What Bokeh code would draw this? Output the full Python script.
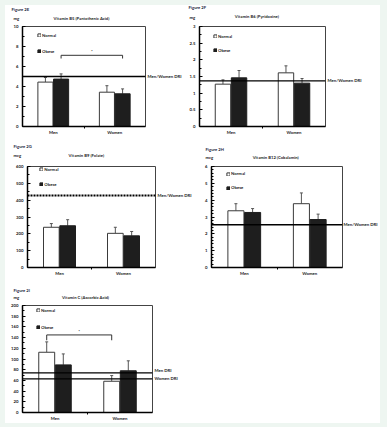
import re
from bokeh.plotting import figure
from bokeh.layouts import row, column
from bokeh.models import (Range1d, Span, Label, Whisker, TeeHead, ColumnDataSource,
                          Legend, LegendItem, FixedTicker, SingleIntervalTicker,
                          NumeralTickFormatter)
from bokeh.embed import file_html
from bokeh.resources import INLINE

# ---------------- data ----------------
groups = ["Men", "Women"]
series = ["Normal", "Obese"]

b5_normal = [4.44, 3.43]
b5_normal_sd = [0.46, 0.65]
b5_obese = [4.74, 3.27]
b5_obese_sd = [0.52, 0.49]
b5_dri = [5.0]
b5_dri_labels = ["Men/Women DRI"]
b5_sig_level = 7.12

b6_normal = [1.27, 1.61]
b6_normal_sd = [0.13, 0.21]
b6_obese = [1.46, 1.30]
b6_obese_sd = [0.22, 0.14]
b6_dri = [1.37]
b6_dri_labels = ["Men/Women DRI"]

b9_normal = [239, 203]
b9_normal_sd = [22, 36]
b9_obese = [248, 188]
b9_obese_sd = [36, 26]
b9_dri = [427]
b9_dri_labels = ["Men/Women DRI"]

b12_normal = [3.37, 3.79]
b12_normal_sd = [0.42, 0.64]
b12_obese = [3.27, 2.85]
b12_obese_sd = [0.23, 0.32]
b12_dri = [2.54]
b12_dri_labels = ["Men/Women DRI"]

c_normal = [112.6, 58.4]
c_normal_sd = [19.4, 10.6]
c_obese = [89, 78]
c_obese_sd = [20.5, 18.6]
c_dri = [74, 63]
c_dri_labels = ["Men DRI", "Women DRI"]
c_sig_level = 145

# ---------------- style ----------------
FONT = "Lato"
TXT = "#222222"
FS = "4.3px"
BW = 0.255


def lab(p, x, y, text, dx=0, dy=0, align="left", size=FS, color=TXT, side="center"):
    p.add_layout(Label(x=x, y=y, x_offset=dx, y_offset=dy, text=text,
                       text_align=align, text_baseline="middle",
                       text_font=FONT, text_font_size=size, text_color=color,
                       text_font_style="bold"), side)


def panel(cfg):
    left, right, top, bottom = cfg["borders"]
    n = len(groups)
    ymax = cfg["ymax"]
    p = figure(width=cfg["w"], height=cfg["h"], x_range=Range1d(0, n),
               y_range=Range1d(0, ymax), output_backend="svg",
               toolbar_location=None, min_border_left=left,
               min_border_right=right, min_border_top=top,
               min_border_bottom=bottom)
    p.xgrid.visible = False
    p.ygrid.visible = False
    p.background_fill_color = "white"
    p.border_fill_color = "white"
    p.outline_line_color = "#444444"
    p.outline_line_width = 1

    # x axis
    xa = p.xaxis[0]
    xa.ticker = FixedTicker(ticks=[i + 0.5 for i in range(n)],
                            minor_ticks=[i for i in range(1, n)])
    xa.major_label_overrides = {i + 0.5: g for i, g in enumerate(groups)}
    xa.major_tick_in = 0
    xa.major_tick_out = 0
    xa.minor_tick_in = 0
    xa.minor_tick_out = 2
    xa.minor_tick_line_color = "black"
    xa.axis_line_width = 1.5
    xa.axis_line_color = "black"
    xa.major_label_standoff = 1
    xa.major_label_text_font = FONT
    xa.major_label_text_font_size = FS
    xa.major_label_text_font_style = "bold"
    xa.major_label_text_color = TXT

    ya = p.yaxis[0]
    ya.ticker = SingleIntervalTicker(interval=cfg["major"], num_minor_ticks=cfg["minor"])
    ya.formatter = NumeralTickFormatter(format="0.[0]")
    ya.major_tick_in = 3
    ya.major_tick_out = 0
    ya.minor_tick_in = 2
    ya.minor_tick_out = 0
    ya.major_tick_line_color = "black"
    ya.minor_tick_line_color = "black"
    ya.axis_line_width = 1.5
    ya.axis_line_color = "black"
    ya.major_label_standoff = 4
    ya.major_label_text_font = FONT
    ya.major_label_text_font_size = FS
    ya.major_label_text_font_style = "bold"
    ya.major_label_text_color = TXT

    normal, obese = cfg["normal"], cfg["obese"]
    src = ColumnDataSource(dict(
        xn=[i + 0.5 - BW / 2 for i in range(n)], xo=[i + 0.5 + BW / 2 for i in range(n)],
        n=normal, o=obese,
        nt=[v + e for v, e in zip(normal, cfg["normal_sd"])],
        ot=[v + e for v, e in zip(obese, cfg["obese_sd"])]))

    rn = p.vbar(x="xn", top="n", bottom=0, width=BW - 0.01, fill_color="white",
                line_color="#3a3a3a", line_width=1, source=src)
    ro = p.vbar(x="xo", top="o", bottom=0, width=BW - 0.01, fill_color="#1e1e1e",
                line_color="#1e1e1e", line_width=1, source=src)
    for base, lo, up in (("xn", "n", "nt"), ("xo", "o", "ot")):
        p.add_layout(Whisker(source=src, base=base, lower=lo, upper=up,
                             dimension="height", line_color="#555555", line_width=1,
                             upper_head=TeeHead(size=3, line_color="#555555", line_width=1),
                             lower_head=None))

    # DRI lines (labels live in the right-hand border so they are not clipped)
    for k, (v, t) in enumerate(zip(cfg["dri"], cfg["dri_labels"])):
        p.add_layout(Span(location=v, dimension="width", line_color="black",
                          line_width=cfg.get("dri_width", 1.3),
                          line_dash=cfg.get("dri_dash", "solid")))
        lab(p, n, v, t, dx=cfg["dri_dx"], dy=cfg["dri_dy"][k], side="right")

    # significance bracket
    if cfg.get("sig") is not None:
        lvl, drop, which, star_dy = cfg["sig"]
        off = 0.5 - BW / 2 if which == 0 else 0.5 + BW / 2
        xs = [off, off, n - 1 + off, n - 1 + off]
        ys = [lvl - drop, lvl, lvl, lvl - drop]
        p.line(xs, ys, line_color="#333333", line_width=1)
        lab(p, (xs[0] + xs[-1]) / 2, lvl, "*", dy=star_dy, align="center")

    # texts above the frame
    lab(p, cfg["title_x"], ymax, cfg["title"], dy=cfg["title_dy"], align="center",
        size="4.2px", side="above")
    lab(p, 0, ymax, cfg["fig"], dx=cfg["fig_dx"], dy=cfg["fig_dy"], size="4.2px",
        color="#1c2540", side="above")
    lab(p, 0, ymax, cfg["unit"], dx=cfg["unit_dx"], dy=cfg["unit_dy"], size="4.2px",
        side="above")

    lx, ly, sp = cfg["legend"]
    leg = Legend(items=[LegendItem(label=series[0], renderers=[rn]),
                        LegendItem(label=series[1], renderers=[ro])],
                 location=(lx, ly), orientation="vertical", padding=0, margin=0,
                 spacing=sp, glyph_width=4, glyph_height=4, label_height=5,
                 label_standoff=1, label_text_font=FONT, label_text_font_size=FS,
                 label_text_font_style="bold", label_text_color=TXT,
                 border_line_color=None, background_fill_alpha=0)
    p.add_layout(leg, "center")
    return p


f1 = panel(dict(fig="Figure 2E", unit="mg", title="Vitamin B5 (Pantothenic Acid)",
                normal=b5_normal, normal_sd=b5_normal_sd, obese=b5_obese, obese_sd=b5_obese_sd,
                dri=b5_dri, dri_labels=b5_dri_labels, dri_dx=2, dri_dy=[0],
                ymax=10, major=2, minor=2, w=181, h=135, borders=(17, 41, 19, 14),
                title_x=0.96, title_dy=8, fig_dx=-11, fig_dy=17, unit_dx=-9, unit_dy=8.5,
                legend=(15, 72.5, 11), sig=(b5_sig_level, 0.32, 1, 3.5)))

f2 = panel(dict(fig="Figure 2F", unit="mg", title="Vitamin B6 (Pyridoxine)",
                normal=b6_normal, normal_sd=b6_normal_sd, obese=b6_obese, obese_sd=b6_obese_sd,
                dri=b6_dri, dri_labels=b6_dri_labels, dri_dx=2, dri_dy=[0],
                ymax=3, major=0.5, minor=2, w=194, h=135, borders=(11, 55, 21, 12),
                title_x=0.91, title_dy=10, fig_dx=-11, fig_dy=19, unit_dx=-10, unit_dy=9,
                legend=(14, 73.2, 9)))

f3 = panel(dict(fig="Figure 2G", unit="mcg", title="Vitamin B9 (Folate)",
                normal=b9_normal, normal_sd=b9_normal_sd, obese=b9_obese, obese_sd=b9_obese_sd,
                dri=b9_dri, dri_labels=b9_dri_labels, dri_dx=2, dri_dy=[0],
                dri_dash="2 1", dri_width=2,
                ymax=600, major=100, minor=2, w=193, h=140, borders=(22, 43, 26, 8),
                title_x=0.92, title_dy=11, fig_dx=-14, fig_dy=20, unit_dx=-14, unit_dy=11,
                legend=(12.3, 80.2, 10)))

f4 = panel(dict(fig="Figure 2H", unit="mcg", title="Vitamin B12 (Cobalamin)",
                normal=b12_normal, normal_sd=b12_normal_sd, obese=b12_obese, obese_sd=b12_obese_sd,
                dri=b12_dri, dri_labels=b12_dri_labels, dri_dx=1, dri_dy=[0],
                ymax=6, major=1, minor=5, w=182, h=140, borders=(13, 38, 23, 13),
                title_x=0.98, title_dy=9, fig_dx=-6, fig_dy=17, unit_dx=-6, unit_dy=9,
                legend=(15, 76.8, 9)))

f5 = panel(dict(fig="Figure 2I", unit="mg", title="Vitamin C (Ascorbic Acid)",
                normal=c_normal, normal_sd=c_normal_sd, obese=c_obese, obese_sd=c_obese_sd,
                dri=c_dri, dri_labels=c_dri_labels, dri_dx=2, dri_dy=[2.5, 0],
                ymax=200, major=20, minor=2, w=200, h=143, borders=(17, 53, 25, 10),
                title_x=0.97, title_dy=8, fig_dx=-9, fig_dy=15, unit_dx=-9, unit_dy=8,
                legend=(14, 82.2, 12), sig=(c_sig_level, 10, 0, 3)))

layout = column(row(f1, f2), row(f3, f4), row(f5), styles={"background-color": "white"})

html = file_html(layout, INLINE)
css = ("<style>html{background-color:#eef6f1 !important;}"
       "body{margin:0 !important;padding:5px !important;"
       "background-color:#eef6f1 !important;}</style>")
html = re.sub(r"</head>", css + "</head>", html, count=1)
open("out.html", "w").write(html)
